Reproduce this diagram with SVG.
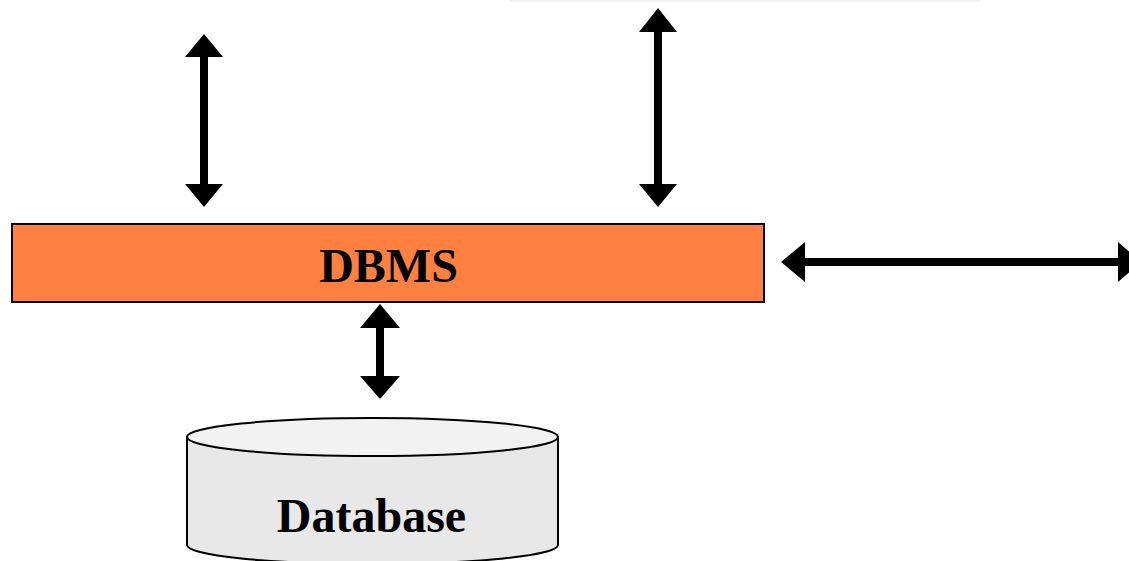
<svg xmlns="http://www.w3.org/2000/svg" width="1129" height="561" viewBox="0 0 1129 561">
  <style>
    .lbl { font-family: "Liberation Serif", "Times New Roman", serif; font-weight: bold; font-size: 48px; fill: #000; text-anchor: middle; }
    .shaft { stroke: #000; stroke-width: 8; fill: none; }
    .head { fill: #000; }
  </style>
  <rect x="0" y="0" width="1129" height="561" fill="#ffffff"/>
  <rect x="510" y="0" width="470" height="2" fill="#f4f4f4"/>
  <g id="connectors">
    <!-- left vertical arrow -->
    <line class="shaft" x1="204" y1="55" x2="204" y2="186"/>
    <polygon class="head" points="204,34 185,57 223,57"/>
    <polygon class="head" points="204,207 185,184 223,184"/>
    <!-- right vertical arrow -->
    <line class="shaft" x1="658" y1="30" x2="658" y2="186"/>
    <polygon class="head" points="658,8 639,32 677,32"/>
    <polygon class="head" points="658,207 639,184 677,184"/>
    <!-- horizontal arrow -->
    <line class="shaft" x1="803" y1="262" x2="1120" y2="262" stroke-width="9"/>
    <polygon class="head" points="781,262 805,242 805,282"/>
    <polygon class="head" points="1141,262 1118,242 1118,282"/>
    <!-- bottom arrow -->
    <line class="shaft" x1="380" y1="326" x2="380" y2="378" stroke-width="9"/>
    <polygon class="head" points="380,304 360,328 400,328"/>
    <polygon class="head" points="380,399 360,376 400,376"/>
  </g>
  <g id="dbms">
    <rect x="12" y="224" width="752" height="78" fill="#FF8040" stroke="#000" stroke-width="2"/>
    <text class="lbl" x="388.5" y="282">DBMS</text>
  </g>
  <g id="database">
    <path d="M187,437 L187,545 A185.5,19 0 0 0 558,545 L558,437 Z" fill="#e8e8e8" stroke="#000" stroke-width="2"/>
    <ellipse cx="372.5" cy="437" rx="185.5" ry="19" fill="#f2f2f2" stroke="#000" stroke-width="2"/>
    <text class="lbl" x="371.5" y="532">Database</text>
  </g>
</svg>
